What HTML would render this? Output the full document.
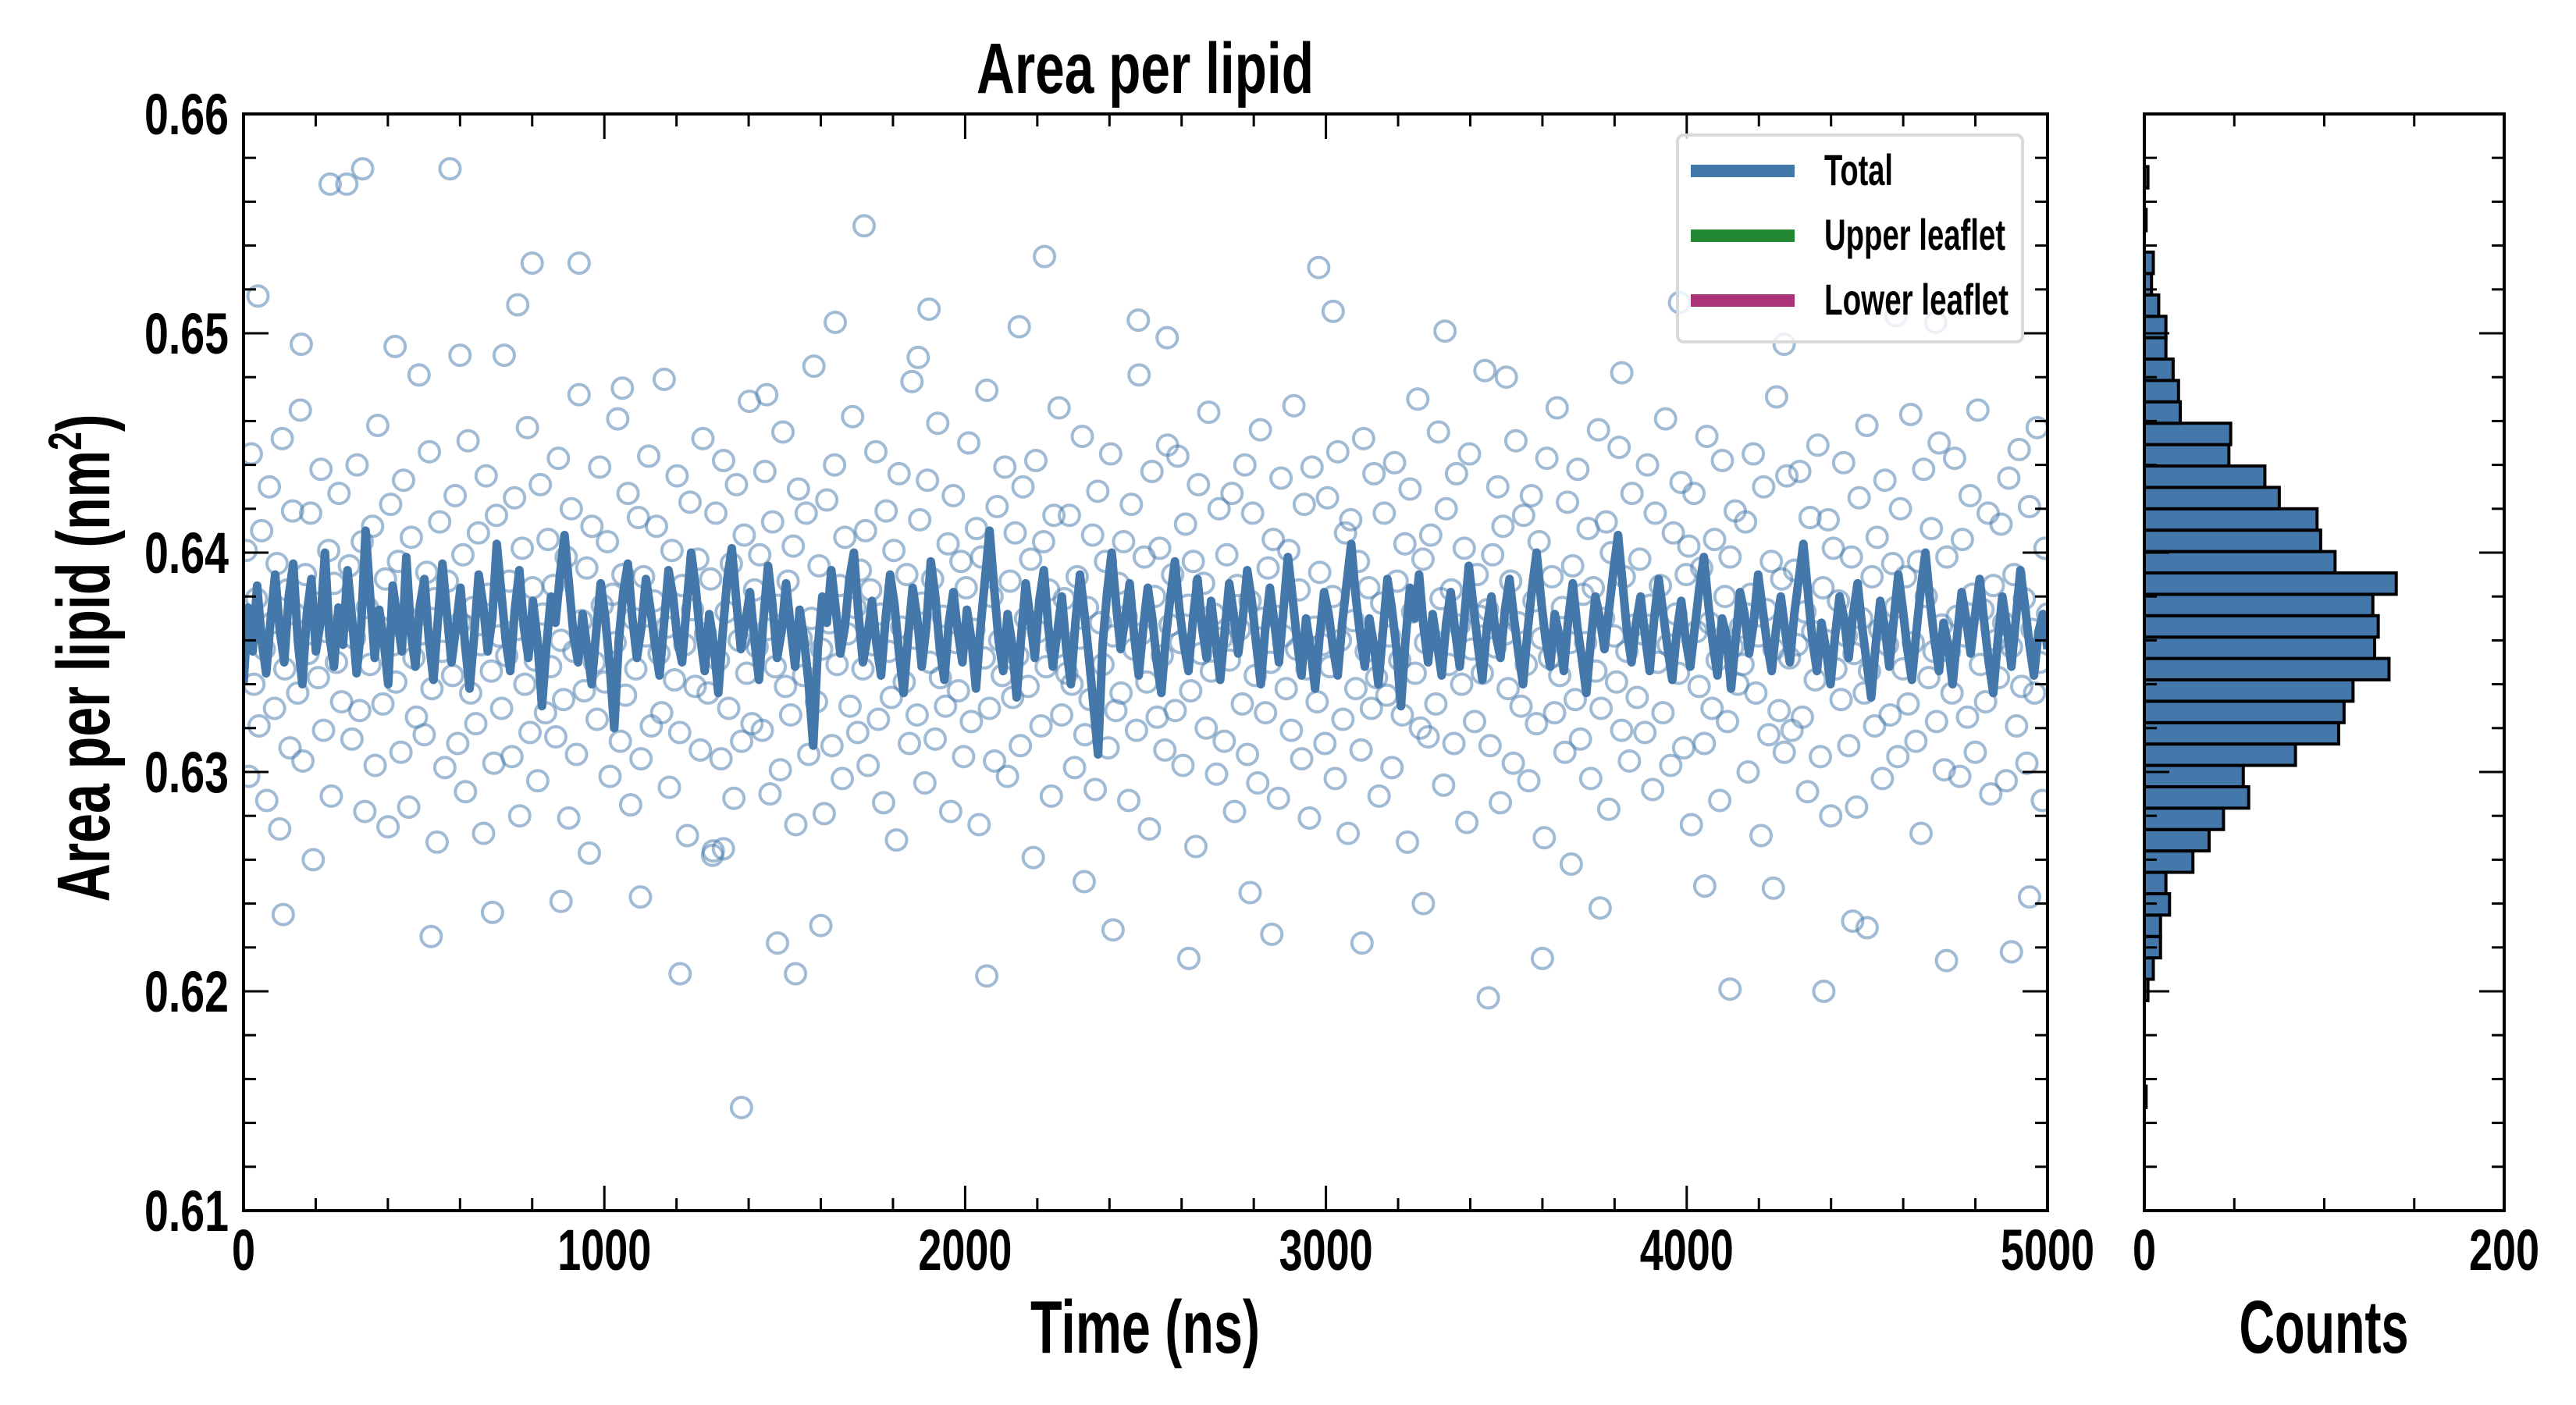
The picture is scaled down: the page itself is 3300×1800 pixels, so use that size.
<!DOCTYPE html>
<html><head><meta charset="utf-8"><style>
html,body{margin:0;padding:0;background:#fff}
svg{display:block}
text{font-family:"Liberation Sans Narrow","Liberation Sans",sans-serif;font-weight:bold;fill:#000}
</style></head><body>
<svg id="chart" width="3300" height="1800" viewBox="0 0 3300 1800" xmlns="http://www.w3.org/2000/svg">
<defs><clipPath id="mainclip"><rect x="312" y="146" width="2311" height="1405"/></clipPath></defs>
<text x="1467" y="119" font-size="92" text-anchor="middle" textLength="432" lengthAdjust="spacingAndGlyphs">Area per lipid</text>
<g id="scatter" clip-path="url(#mainclip)"></g>
<g id="line" clip-path="url(#mainclip)"></g>
<g id="hist"></g>
<g id="axes"></g>
<g>
<rect x="2149" y="173" width="442" height="265" rx="8" fill="#fff" fill-opacity="0.8" stroke="#d9d9d9" stroke-width="4"/>
<line x1="2166" y1="219" x2="2299" y2="219" stroke="#4477aa" stroke-width="16"/>
<text x="2337" y="237" font-size="56" textLength="88" lengthAdjust="spacingAndGlyphs">Total</text>
<line x1="2166" y1="302" x2="2299" y2="302" stroke="#228833" stroke-width="16"/>
<text x="2337" y="320" font-size="56" textLength="232" lengthAdjust="spacingAndGlyphs">Upper leaflet</text>
<line x1="2166" y1="385" x2="2299" y2="385" stroke="#aa3377" stroke-width="16"/>
<text x="2337" y="403" font-size="56" textLength="236" lengthAdjust="spacingAndGlyphs">Lower leaflet</text>
</g>
<text x="1467" y="1733" font-size="96" text-anchor="middle" textLength="294" lengthAdjust="spacingAndGlyphs">Time (ns)</text>
<text x="2977" y="1733" font-size="96" text-anchor="middle" textLength="217" lengthAdjust="spacingAndGlyphs">Counts</text>
<text transform="translate(140,843) rotate(-90)" font-size="96" text-anchor="middle" textLength="625" lengthAdjust="spacingAndGlyphs">Area per lipid (nm<tspan font-size="60" dy="-36">2</tspan><tspan dy="36">)</tspan></text>
</svg>
<script>
const NS="http://www.w3.org/2000/svg";
// main axis domains
const xDomain=[0,5000], yDomain=[0.61,0.66], histDomain=[0,200];
const xTicks=[0,1000,2000,3000,4000,5000];
const xTickLabels=["0","1000","2000","3000","4000","5000"];
const yTicks=[0.61,0.62,0.63,0.64,0.65,0.66];
const yTickLabels=["0.61","0.62","0.63","0.64","0.65","0.66"];
const histTicks=[0,200];
const histTickLabels=["0","200"];
// scatter values: (area - 0.61) * 10000, evenly spaced in time
const scatterVals=[
262,301,198,345,240,279,221,310,256,187,330,268,229,295,174,352,247,283,211,319,
272,236,365,205,290,254,318,160,277,243,338,219,264,301,189,286,250,327,232,270,
468,294,215,261,340,228,305,182,275,249,312,203,358,266,231,288,175,322,258,241,
296,209,333,271,184,307,252,225,381,263,217,291,346,238,279,168,314,255,202,287,
475,244,326,213,268,299,191,351,236,275,222,309,258,172,335,281,246,204,317,262,
229,390,253,287,207,325,265,180,302,240,357,218,284,251,196,331,272,227,306,248,
285,216,343,260,233,298,179,320,255,208,372,269,237,293,163,312,250,224,339,276,
241,305,198,281,259,361,214,290,235,327,185,270,247,316,206,289,262,344,221,278,
312,254,227,379,266,193,301,242,335,218,285,258,171,323,274,239,297,210,352,263,
236,288,164,318,251,206,342,273,229,295,188,331,260,214,308,245,369,222,283,257,
299,219,337,265,190,314,248,276,201,355,239,287,226,303,176,329,261,244,318,208,
270,385,232,294,256,181,324,268,212,340,249,285,197,307,263,230,362,275,218,292,
247,310,203,283,258,346,224,272,186,319,255,234,301,169,336,266,241,290,213,378,
261,226,315,277,195,333,250,288,215,359,243,271,230,304,182,326,259,237,296,207,
284,350,223,265,311,176,298,252,374,229,280,205,321,260,244,339,198,287,234,309,
253,212,330,270,239,297,161,342,264,221,305,248,283,189,317,257,366,226,279,245,
317,240,202,289,261,353,217,275,233,308,192,328,268,249,296,211,345,262,228,286,
236,305,271,187,322,256,219,381,263,298,241,174,337,280,225,302,253,210,349,267,
290,228,344,259,203,313,276,237,296,166,331,254,286,220,364,246,272,199,320,261,
214,299,251,327,182,285,265,231,340,208,278,318,244,195,356,270,227,293,250,306,
271,188,334,262,238,301,219,367,256,283,206,322,247,179,339,266,232,291,258,213,
325,248,280,197,346,260,224,309,172,315,269,238,296,210,352,255,284,229,336,243,
189,277,318,235,262,202,341,287,251,226,304,168,329,273,245,370,220,297,259,216,
308,260,231,355,279,194,320,249,283,213,336,267,240,302,177,345,256,223,290,271,
245,383,274,212,299,257,330,186,312,263,238,287,204,351,268,230,317,249,196,326,
278,222,305,261,170,343,252,289,227,366,244,275,209,323,259,294,233,338,215,281,
259,311,197,284,246,356,229,270,314,183,300,262,241,348,219,289,255,205,327,267,
234,297,263,218,340,276,192,318,250,285,227,361,258,203,309,272,245,332,211,290,
303,176,327,264,239,293,213,353,268,229,306,251,187,342,280,223,298,257,319,240,
266,249,314,200,281,345,236,262,171,330,274,217,296,256,371,228,288,209,335,252,
219,292,258,337,225,273,191,316,264,242,349,207,284,260,315,180,302,247,278,233,
341,262,212,298,254,184,325,270,236,358,246,289,221,307,265,197,333,258,226,295,
275,207,320,247,289,231,363,259,214,296,172,338,280,243,311,255,223,350,267,201,
298,255,236,343,271,198,306,262,225,326,281,209,365,249,274,232,318,190,285,260,
243,313,268,196,334,257,290,221,347,239,279,204,321,265,236,357,250,187,302,272];
// extra outlying points: times and areas
const extraT=[1380,1210,1530,2060,3450,4120,4380,330,240,1720,2980,2220,930,800,40,160,520,690,880,1100,1300,1450,1640,1900,2150,2410,2620,2850,3100,3330,3600,3820,4050,4270,4500,4720,4950,110,420,760,1050,1330,1600,1870,2330,2560,2790,3020,3270,3500,3760,3980,4240,4460,4690,4900,600,1480,2480,3680,4580];
const extraY=[0.6147,0.6208,0.6208,0.6207,0.6197,0.6201,0.6200,0.6575,0.6568,0.6549,0.6530,0.6535,0.6532,0.6532,0.6517,0.6495,0.6225,0.6236,0.6241,0.6243,0.6262,0.6472,0.6505,0.6511,0.6503,0.6228,0.6215,0.6226,0.6222,0.6501,0.6215,0.6482,0.6248,0.6495,0.6229,0.6214,0.6243,0.6235,0.6494,0.6513,0.6475,0.6265,0.6230,0.6489,0.6250,0.6498,0.6245,0.6510,0.6240,0.6480,0.6238,0.6514,0.6247,0.6232,0.6505,0.6218,0.6490,0.6222,0.6506,0.6258,0.6508];
// time series line values: (area - 0.63) * 10000
const lineVals=[
40,75,55,85,60,45,70,90,65,50,80,95,60,40,72,88,55,68,100,62,
48,75,58,92,70,45,66,110,80,52,74,60,40,85,70,55,98,64,48,76,
88,60,42,70,95,72,50,66,84,58,38,62,90,76,55,70,104,82,60,46,
74,92,66,52,78,60,30,58,80,68,90,108,85,62,50,72,56,40,64,86,
70,48,20,60,82,95,70,52,66,88,74,58,44,68,92,80,60,50,76,100,
84,62,46,72,58,36,64,88,102,78,56,68,82,60,42,70,94,76,52,64,
86,66,48,74,60,40,12,56,80,68,92,74,54,66,88,100,72,50,62,78,
58,44,70,90,76,54,36,62,84,70,48,66,96,80,56,42,68,82,64,50,
74,60,38,66,88,110,84,60,46,72,58,34,62,86,70,52,78,92,66,48,
64,80,56,40,68,90,72,52,30,8,58,82,100,76,56,70,86,62,44,66,
84,70,50,36,62,80,96,74,58,46,70,88,66,52,78,60,42,64,86,72,
54,70,92,78,58,40,66,84,68,50,74,98,80,60,44,70,56,38,62,82,
72,56,44,68,86,104,80,62,48,70,58,40,64,88,74,56,30,60,84,70,
90,66,50,72,58,44,68,82,64,48,70,94,76,58,42,66,80,62,52,74,
88,70,54,40,64,84,100,78,60,48,72,62,46,70,86,66,52,36,60,80,
70,56,74,92,108,86,64,50,68,80,62,46,70,88,72,56,42,64,78,60,
48,66,84,98,76,58,44,70,62,38,60,82,72,54,68,90,74,58,46,66,
80,64,50,72,88,104,82,60,46,68,56,40,62,80,70,52,72,86,66,50,
34,58,78,66,48,70,90,74,56,42,64,84,100,78,60,46,68,58,40,62,
82,70,54,72,88,68,50,36,60,80,66,48,70,92,76,58,44,64,72,56];
// histogram: counts per bin, bottom bin first
const histBinStart=0.6147, histBinWidth=0.000975;
const histCounts=[1,0,0,0,0,2,5,9,9,14,12,27,36,44,58,55,84,108,111,116,136,128,130,127,140,106,98,96,75,67,47,48,20,19,16,12,12,8,4,5,0,1,0,2];

const M={l:312,r:2623,t:146,b:1551}, H={l:2747,r:3208};
const xs=v=>M.l+(v-xDomain[0])/(xDomain[1]-xDomain[0])*(M.r-M.l);
const ys=v=>M.b-(v-yDomain[0])/(yDomain[1]-yDomain[0])*(M.b-M.t);
const hs=v=>H.l+(v-histDomain[0])/(histDomain[1]-histDomain[0])*(H.r-H.l);
function mk(tag,attrs,parent){const e=document.createElementNS(NS,tag);for(const k in attrs)e.setAttribute(k,attrs[k]);parent.appendChild(e);return e;}

const sc=document.getElementById('scatter');
scatterVals.forEach((v,i)=>{
  const c=mk('circle',{cx:xs(i*5000/(scatterVals.length-1)),cy:ys(0.61+v/10000),r:13,fill:'none',stroke:'#4477aa','stroke-opacity':0.5,'stroke-width':4},sc);
  
  
});
extraT.forEach((t,i)=>{
  const c=mk('circle',{cx:xs(t),cy:ys(extraY[i]),r:13,fill:'none',stroke:'#4477aa','stroke-opacity':0.5,'stroke-width':4},sc);
  
  
});
const pts=lineVals.map((v,i)=>xs(i*5000/(lineVals.length-1)).toFixed(1)+','+ys(0.63+v/10000).toFixed(1)).join(' ');
const pl=mk('polyline',{points:pts,fill:'none',stroke:'#4477aa','stroke-width':11,'stroke-linejoin':'round'},document.getElementById('line'));



const hg=document.getElementById('hist');
histCounts.forEach((c,i)=>{
  if(!c)return;
  const y0=histBinStart+i*histBinWidth, y1=y0+histBinWidth;
  const r=mk('rect',{x:hs(0),y:ys(y1),width:hs(c)-hs(0),height:ys(y0)-ys(y1),fill:'#4477aa',stroke:'#000','stroke-width':4},hg);
  
  
});

const ax=document.getElementById('axes');
function frame(l,r,name){
  const f=mk('rect',{x:l,y:M.t,width:r-l,height:M.b-M.t,fill:'none',stroke:'#000','stroke-width':4},ax);
  
  
}
function tline(x1,y1,x2,y2){mk('line',{x1,y1,x2,y2,stroke:'#000','stroke-width':3},ax);}
frame(M.l,M.r,'main-plot-frame');frame(H.l,H.r,'hist-plot-frame');
for(let v=0;v<=5000;v+=200){const x=xs(v),L=(v%1000===0)?32:16;tline(x,M.b,x,M.b-L);tline(x,M.t,x,M.t+L);}
for(let k=0;k<=25;k++){const v=0.61+k*0.002,y=ys(v),L=(k%5===0)?32:16;
  tline(M.l,y,M.l+L,y);tline(M.r,y,M.r-L,y);tline(H.l,y,H.l+L,y);tline(H.r,y,H.r-L,y);}
for(let v=0;v<=200;v+=50){const x=hs(v),L=(v%200===0)?32:16;tline(x,M.b,x,M.b-L);tline(x,M.t,x,M.t+L);}
xTicks.forEach((v,i)=>{const s=xTickLabels[i];const t=mk('text',{x:xs(v),y:1627,'font-size':74,'text-anchor':'middle',textLength:s.length*30,lengthAdjust:'spacingAndGlyphs'},ax);t.textContent=s;
  
  });
yTicks.forEach((v,i)=>{const t=mk('text',{x:293,y:ys(v)+26,'font-size':74,'text-anchor':'end',textLength:108,lengthAdjust:'spacingAndGlyphs'},ax);t.textContent=yTickLabels[i];
  
  });
histTicks.forEach((v,i)=>{const s=histTickLabels[i];const t=mk('text',{x:hs(v),y:1627,'font-size':74,'text-anchor':'middle',textLength:s.length*30,lengthAdjust:'spacingAndGlyphs'},ax);t.textContent=s;
  
  });
</script>
</body></html>
